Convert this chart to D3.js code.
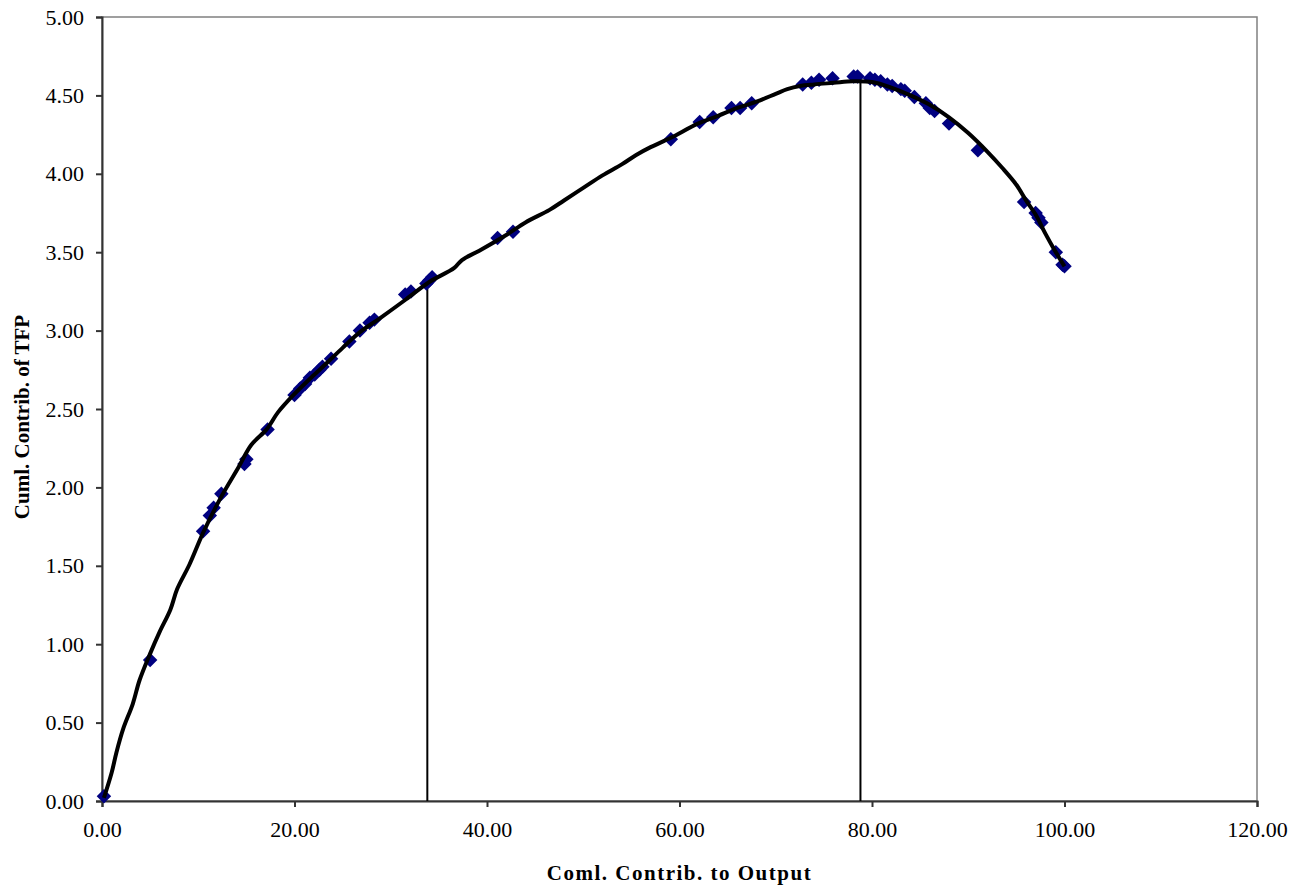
<!DOCTYPE html>
<html>
<head>
<meta charset="utf-8">
<script src="https://cdn.jsdelivr.net/npm/d3@7"></script>
<style>
  body { margin: 0; background: #fff; }
  text { font-family: "Liberation Serif", "Times New Roman", serif; }
</style>
</head>
<body>
<script>
const margin = { top: 17, right: 55, bottom: 89, left: 102 }
    , width = 1312 - margin.left - margin.right
    , height = 890 - margin.top - margin.bottom

// observed points (cumulative contribution to output, cumulative contribution of TFP)
const outputX = [0.2, 5.0, 10.5, 11.2, 11.6, 12.4, 14.8, 15.0, 17.2, 20.0, 20.6, 21.1, 21.6, 22.1, 22.6, 22.9,
    23.8, 25.7, 26.8, 27.8, 28.3, 31.5, 32.1, 33.7, 34.0, 34.3, 41.1, 42.7, 59.1, 62.1, 63.5, 65.4,
    66.3, 67.5, 72.8, 73.7, 74.5, 75.9, 78.1, 78.5, 79.8, 80.3, 80.9, 81.6, 82.1, 83.0, 83.4, 84.4,
    85.6, 86.0, 86.5, 88.0, 91.0, 95.8, 97.0, 97.3, 97.6, 99.1, 99.8, 100.0]
const tfpY = [0.03, 0.90, 1.72, 1.82, 1.87, 1.96, 2.15, 2.18, 2.37, 2.59, 2.63, 2.66, 2.70, 2.72, 2.75, 2.77,
    2.82, 2.93, 3.00, 3.05, 3.07, 3.23, 3.25, 3.30, 3.32, 3.34, 3.59, 3.63, 4.22, 4.33, 4.36, 4.42,
    4.42, 4.45, 4.57, 4.58, 4.60, 4.61, 4.62, 4.62, 4.61, 4.60, 4.59, 4.57, 4.56, 4.54, 4.53, 4.49,
    4.45, 4.42, 4.40, 4.32, 4.15, 3.82, 3.75, 3.72, 3.69, 3.50, 3.42, 3.41]

// fitted curve
const fitX = [0.2, 1.0, 1.5, 2.2, 3.2, 3.9, 5.0, 6.0, 7.1, 7.8, 9.1, 10.5, 12.3, 14.2, 15.5, 17.1, 18.3,
    19.9, 21.9, 23.3, 25.0, 26.8, 28.9, 31.6, 34.0, 36.6, 37.4, 39.2, 42.0, 44.0, 46.5, 48.0, 50.0,
    52.0, 54.0, 55.5, 57.0, 59.1, 61.9, 64.0, 66.0, 68.0, 70.0, 71.2, 72.5, 74.0, 76.0, 78.0, 80.0,
    82.0, 84.0, 86.0, 88.0, 90.0, 92.0, 93.5, 95.0, 96.0, 97.0, 98.0, 99.0, 100.0]
const fitY = [0.02, 0.18, 0.31, 0.46, 0.62, 0.77, 0.94, 1.08, 1.22, 1.35, 1.51, 1.71, 1.93, 2.13, 2.27,
    2.37, 2.48, 2.59, 2.71, 2.79, 2.89, 2.99, 3.08, 3.20, 3.31, 3.40, 3.45, 3.51, 3.61, 3.69, 3.77,
    3.83, 3.91, 3.99, 4.06, 4.12, 4.17, 4.23, 4.32, 4.37, 4.42, 4.46, 4.51, 4.54, 4.56, 4.57, 4.58,
    4.59, 4.585, 4.55, 4.50, 4.44, 4.36, 4.26, 4.14, 4.04, 3.93, 3.83, 3.74, 3.62, 3.51, 3.41]

// the two marker lines
const markerX = [33.8, 78.8]
const markerY = [3.30, 4.59]

const xTicks = [0, 20, 40, 60, 80, 100, 120]
const yTicks = [0, 0.5, 1, 1.5, 2, 2.5, 3, 3.5, 4, 4.5, 5]

const svg = d3.select('body').append('svg')
    .attr('width', 1312)
    .attr('height', 890)

const xScale = d3.scaleLinear()
    .domain([0, 120])
    .range([margin.left, margin.left + width])

const yScale = d3.scaleLinear()
    .domain([0, 5])
    .range([margin.top + height, margin.top])

// plot frame
svg.append('rect')
    .attr('x', margin.left)
    .attr('y', margin.top)
    .attr('width', width)
    .attr('height', height)
    .attr('fill', 'none')
    .attr('stroke', '#808080')
    .attr('stroke-width', 1.5)

// x axis
const xAxis = svg.append('g')
    .attr('transform', 'translate(0,' + (margin.top + height) + ')')
    .call(d3.axisBottom(xScale).tickValues(xTicks).tickFormat(d3.format('.2f')).tickSizeOuter(0).tickSize(6).tickPadding(14))

// y axis
const yAxis = svg.append('g')
    .attr('transform', 'translate(' + margin.left + ',0)')
    .call(d3.axisLeft(yScale).tickValues(yTicks).tickFormat(d3.format('.2f')).tickSizeOuter(0).tickSize(6).tickPadding(12))

svg.selectAll('.domain, .tick line')
    .attr('stroke', '#333')
    .attr('stroke-width', 2)
svg.selectAll('.tick text')
    .attr('fill', '#000')
    .style('font-size', '22px')
xAxis.selectAll('.tick text').attr('dy', '0.71em')

// vertical marker lines
svg.selectAll('.marker')
    .data(markerX)
    .enter()
    .append('line')
    .attr('x1', d => xScale(d))
    .attr('x2', d => xScale(d))
    .attr('y1', yScale(0))
    .attr('y2', (d, i) => yScale(markerY[i]))
    .attr('stroke', '#000')
    .attr('stroke-width', 2)

// observed diamonds
const points = outputX.map((x, i) => ({ x: x, y: tfpY[i] }))
svg.selectAll('.dot')
    .data(points)
    .enter()
    .append('path')
    .attr('d', d3.symbol().type(d3.symbolSquare).size(105))
    .attr('transform', d => 'translate(' + xScale(d.x) + ',' + yScale(d.y) + ') rotate(45)')
    .attr('fill', '#000080')

// fitted line
const fit = fitX.map((x, i) => ({ x: x, y: fitY[i] }))
const line = d3.line()
    .x(d => xScale(d.x))
    .y(d => yScale(d.y))
    .curve(d3.curveCatmullRom)

svg.append('path')
    .datum(fit)
    .attr('d', line)
    .attr('fill', 'none')
    .attr('stroke', '#000')
    .attr('stroke-width', 4)
    .attr('stroke-linejoin', 'round')

// axis titles
svg.append('text')
    .attr('x', margin.left + width / 2)
    .attr('y', 880)
    .attr('text-anchor', 'middle')
    .style('font-size', '21px')
    .style('font-weight', 'bold')
    .style('letter-spacing', '1.5px')
    .text('Coml. Contrib. to Output')

svg.append('text')
    .attr('transform', 'translate(29,' + (margin.top + height / 2 + 8) + ') rotate(-90)')
    .attr('text-anchor', 'middle')
    .style('font-size', '21px')
    .style('font-weight', 'bold')
    .text('Cuml. Contrib. of TFP')
</script>
</body>
</html>
